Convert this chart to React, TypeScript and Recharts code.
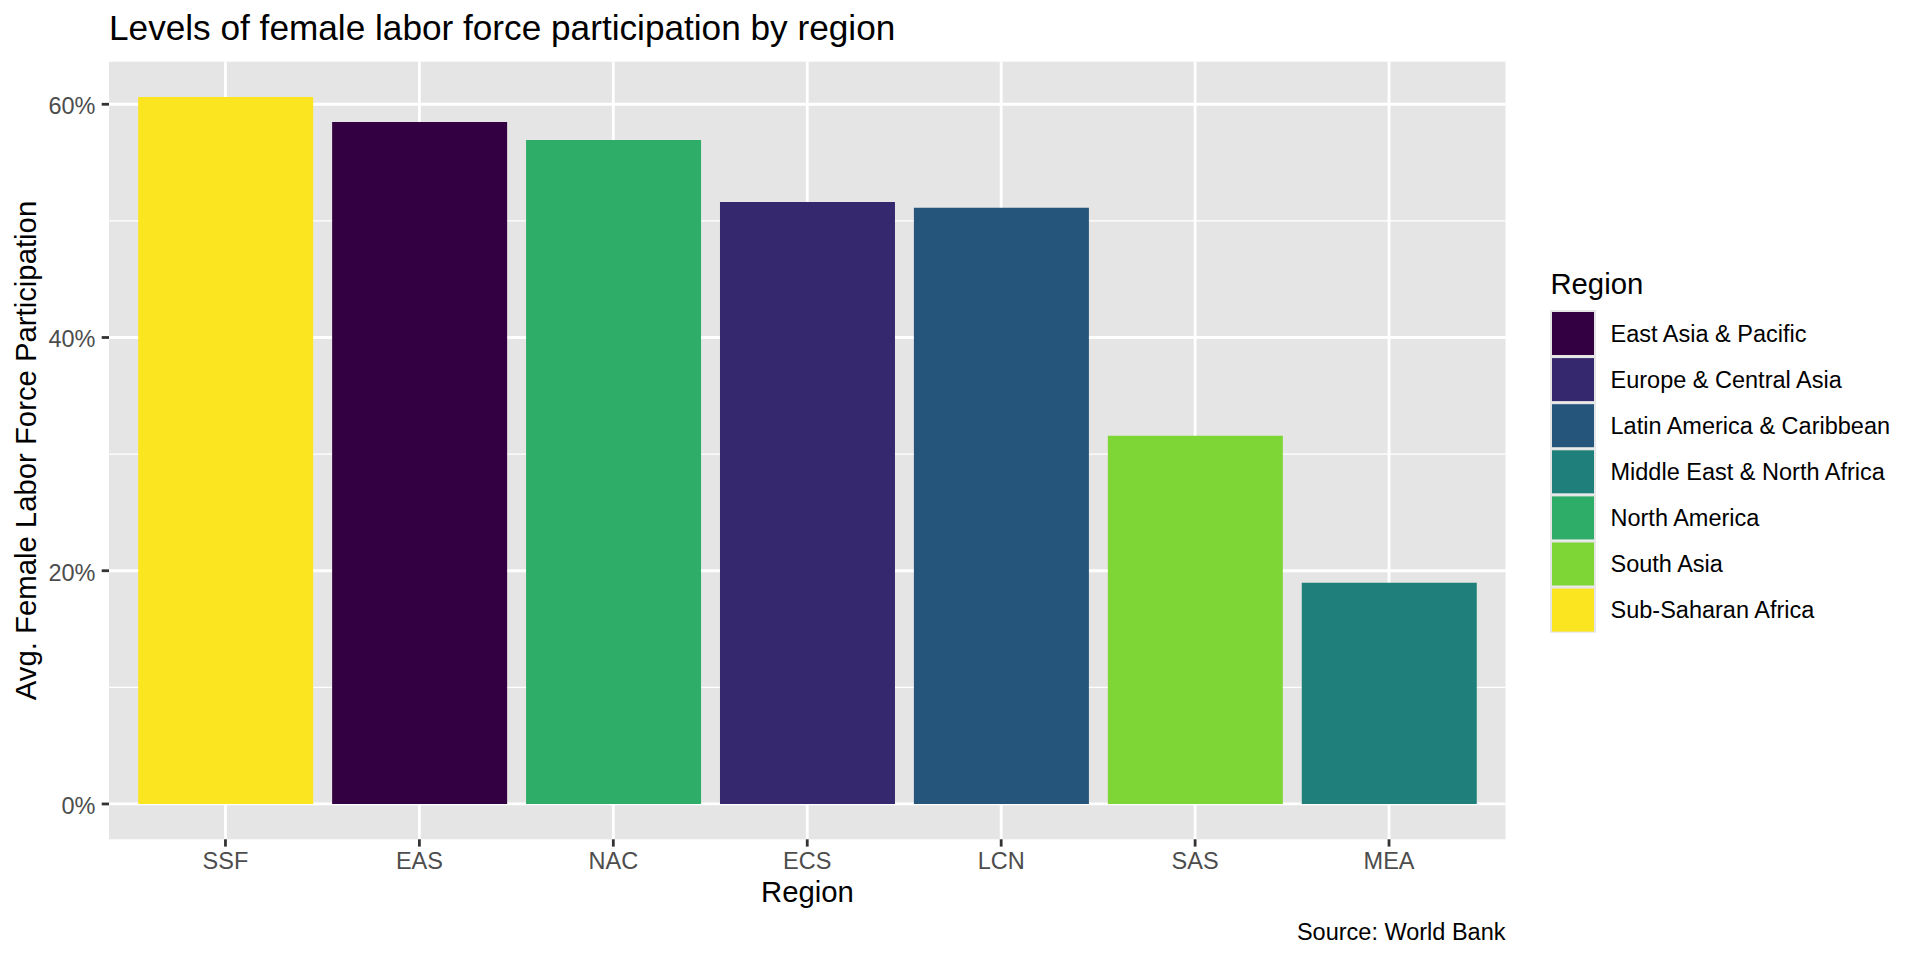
import React from "react";
import { BarChart, Bar, XAxis, YAxis, CartesianGrid, Cell, Legend } from "recharts";

// bars in plotted order (sorted by value)
const CODES = ["SSF", "EAS", "NAC", "ECS", "LCN", "SAS", "MEA"];
const PARTICIPATION = [60.62, 58.48, 56.94, 51.63, 51.12, 31.57, 18.97];

// legend order (alphabetical by region name)
const REGION_CODES = ["EAS", "ECS", "LCN", "MEA", "NAC", "SAS", "SSF"];
const REGION_NAMES = [
  "East Asia & Pacific",
  "Europe & Central Asia",
  "Latin America & Caribbean",
  "Middle East & North Africa",
  "North America",
  "South Asia",
  "Sub-Saharan Africa",
];
const REGION_COLORS = ["#330042", "#35286E", "#26557B", "#1F7F7A", "#2EAD68", "#7ED536", "#FBE420"];

const Y_TICKS = [0, 20, 40, 60];
const Y_MINOR = [10, 30, 50];

const FONT = '"Liberation Sans", Arial, Helvetica, sans-serif';
const PANEL = "#E5E5E5";
const X_PAD = 19.5;

const data = CODES.map((code, i) => ({ code, value: PARTICIPATION[i] }));
const colorOf = (code: string) => REGION_COLORS[REGION_CODES.indexOf(code)];

function verticalCenters({ xAxis, offset }: any) {
  const s = xAxis && xAxis.scale;
  if (typeof s === "function") {
    const bw = typeof s.bandwidth === "function" ? s.bandwidth() : 0;
    const pts = CODES.map((c) => s(c) + bw / 2);
    if (pts.every((p) => Number.isFinite(p))) return pts;
  }
  const band = (offset.width - 2 * X_PAD) / CODES.length;
  return CODES.map((_, i) => offset.left + X_PAD + band * (i + 0.5));
}

function RegionLegend() {
  const cell = 46.1;
  return (
    <svg width={380} height={420} style={{ display: "block", fontFamily: FONT }}>
      <text x={10.4} y={34} fontSize={29.3} fill="#000">Region</text>
      {REGION_NAMES.map((name, i) => {
        const y = 50 + cell * i;
        return (
          <g key={name}>
            <rect x={10} y={y} width={46} height={cell} fill={PANEL} />
            <rect x={12} y={y + 2} width={42} height={43} fill={REGION_COLORS[i]} />
            <text x={70.5} y={y + cell / 2 + 8.6} fontSize={23.5} fill="#000">{name}</text>
          </g>
        );
      })}
    </svg>
  );
}

export default function App() {
  return (
    <div style={{ position: "absolute", left: 0, top: 0, width: 1920, height: 960, background: "#fff", fontFamily: FONT }}>
      <BarChart
        width={1920}
        height={960}
        data={data}
        margin={{ top: 61.7, right: 414.5, bottom: 60.7, left: 0 }}
        barCategoryGap="5%"
      >
        <CartesianGrid horizontalValues={Y_MINOR} vertical={false} stroke="#fff" strokeWidth={1.42} fill={PANEL} />
        <CartesianGrid
          horizontalValues={Y_TICKS}
          verticalCoordinatesGenerator={verticalCenters}
          stroke="#fff"
          strokeWidth={2.84}
        />
        <XAxis
          dataKey="code"
          height={60}
          interval={0}
          padding={{ left: X_PAD, right: X_PAD }}
          axisLine={false}
          tickSize={7.3}
          tickMargin={6}
          tickLine={{ stroke: "#333333", strokeWidth: 2.8 }}
          tick={{ fill: "#4D4D4D", fontSize: 23.5 }}
        />
        <YAxis
          width={109}
          type="number"
          domain={[-3.031, 63.651]}
          allowDataOverflow
          ticks={Y_TICKS}
          tickFormatter={(v) => `${v}%`}
          axisLine={false}
          tickSize={7.3}
          tickMargin={6.2}
          tickLine={{ stroke: "#333333", strokeWidth: 2.8 }}
          tick={{ fill: "#4D4D4D", fontSize: 23.5, dy: 1.5 }}
        />
        <Bar dataKey="value" isAnimationActive={false}>
          {data.map((d) => (
            <Cell key={d.code} fill={colorOf(d.code)} />
          ))}
        </Bar>
        <Legend
          layout="vertical"
          align="center"
          verticalAlign="middle"
          content={() => <RegionLegend />}
          wrapperStyle={{ left: 1540, top: 260, width: 380, height: 420 }}
        />
      </BarChart>
      <svg
        width={1920}
        height={960}
        style={{ position: "absolute", left: 0, top: 0, pointerEvents: "none", fontFamily: FONT }}
      >
        <text x={109} y={40} fontSize={35.2} fill="#000">
          Levels of female labor force participation by region
        </text>
        <text x={807.5} y={902} fontSize={29.3} fill="#000" textAnchor="middle">
          Region
        </text>
        <text transform="translate(36 450.5) rotate(-90)" fontSize={29.3} fill="#000" textAnchor="middle">
          Avg. Female Labor Force Participation
        </text>
        <text x={1505.5} y={940} fontSize={23.5} fill="#000" textAnchor="end">
          Source: World Bank
        </text>
      </svg>
    </div>
  );
}
